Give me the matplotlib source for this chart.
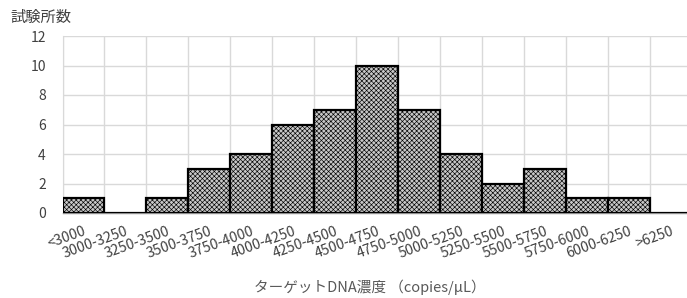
import numpy as np
import matplotlib
matplotlib.use("Agg")
from matplotlib import pyplot as plt

plt.rcParams['font.family'] = ['Noto Sans CJK JP', 'DejaVu Sans']
plt.rcParams['hatch.color'] = '#555555'
plt.rcParams['hatch.linewidth'] = 0.45

categories = ['<3000', '3000-3250', '3250-3500', '3500-3750', '3750-4000',
              '4000-4250', '4250-4500', '4500-4750', '4750-5000', '5000-5250',
              '5250-5500', '5500-5750', '5750-6000', '6000-6250', '>6250']
counts = [1, 0, 1, 3, 4, 6, 7, 10, 7, 4, 2, 3, 1, 1, 0]
y_ticks = [0, 2, 4, 6, 8, 10, 12]

W, H = 687, 298
fig = plt.figure(figsize=(W / 100, H / 100), dpi=100)
# plot area runs past the right edge, like the original cropped picture
ax = fig.add_axes([62.5 / W, 1 - 213 / H, 629 / W, 177 / H])

x = np.arange(len(categories))
ax.bar(x, counts, width=1.0, facecolor='#c8c8c8', edgecolor='black',
       linewidth=1.6, hatch='xxxxxxx', zorder=3)

ax.set_xlim(-0.5, len(categories) - 0.5)
ax.set_ylim(0, 12)
ax.set_yticks(y_ticks)
ax.set_yticklabels([str(v) for v in y_ticks], fontsize=10, color='#404040')
ax.set_xticks(x)
ax.set_xticklabels(categories, rotation=20, ha='right', rotation_mode='anchor',
                   fontsize=10.2, color='#404040')
ax.tick_params(axis='y', length=0, pad=12)
ax.tick_params(axis='x', length=0, pad=8)

ax.set_xticks(np.arange(-0.5, len(categories)), minor=True)
ax.tick_params(which='minor', length=0)
ax.grid(True, which='minor', axis='x', color='#d9d9d9', linewidth=1.0, zorder=0)
ax.grid(True, which='major', axis='y', color='#d9d9d9', linewidth=1.0, zorder=0)

for side in ['top', 'right']:
    ax.spines[side].set_visible(False)
ax.spines['left'].set_color('#d9d9d9')
ax.spines['bottom'].set_color('#8c8c8c')
ax.spines['bottom'].set_linewidth(1.0)

fig.text(10 / W, 1 - 17 / H, '試験所数', fontsize=11, color='#404040',
         ha='left', va='center')
fig.text(370 / W, 1 - 287 / H, 'ターゲットDNA濃度 （copies/μL）', fontsize=10.5,
         color='#595959', ha='center', va='center')

fig.savefig('out.png', dpi=100)
